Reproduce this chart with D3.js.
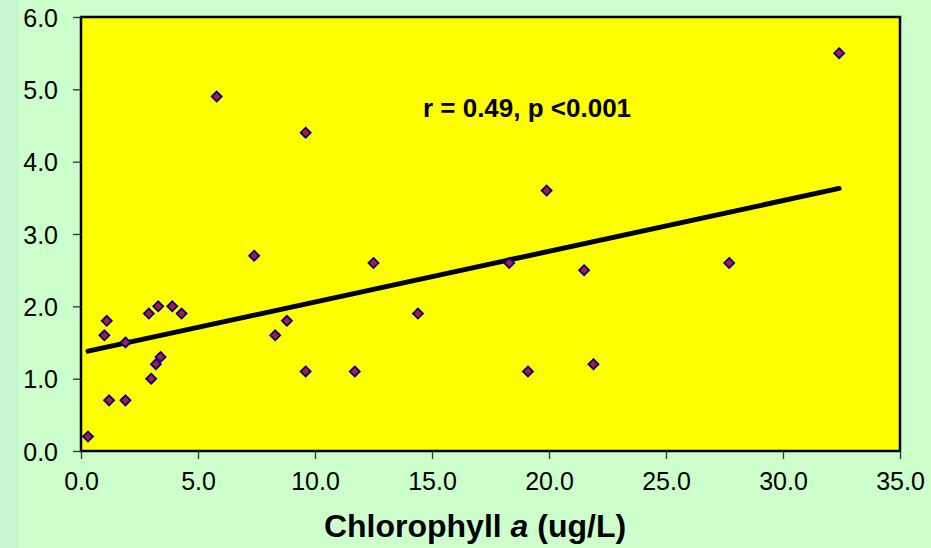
<!DOCTYPE html>
<html><head><meta charset="utf-8">
<script src="https://cdn.jsdelivr.net/npm/d3@7"></script>
<style>html,body{margin:0;padding:0;background:#ccffcc;}svg{display:block;}</style>
</head><body>
<svg id="c" width="931" height="548"></svg>
<script>
const chlorophyll = [0.3,1.0,1.1,1.2,1.9,1.9,2.9,3.0,3.2,3.3,3.4,3.9,4.3,5.8,7.4,8.3,8.8,9.6,9.6,11.7,12.5,14.4,18.3,19.1,19.9,21.5,21.9,27.7,32.4];
const yValues   = [0.2,1.6,1.8,0.7,1.5,0.7,1.9,1.0,1.2,2.0,1.3,2.0,1.9,4.9,2.7,1.6,1.8,4.4,1.1,1.1,2.6,1.9,2.6,1.1,3.6,2.5,1.2,2.6,5.5];
const trendX = [0.3, 32.4];
const trendY = [1.38, 3.63];
const xTicks = [0,5,10,15,20,25,30,35];
const yTicks = [0,1,2,3,4,5,6];
const annotation = "r = 0.49, p <0.001";

const svg = d3.select("#c");
svg.append("rect").attr("x",0).attr("y",0).attr("width",19).attr("height",548).attr("fill","#c6f6cd");
const L=81,T=17,R=900,B=451;
const x = d3.scaleLinear().domain([0,35]).range([L,R]);
const y = d3.scaleLinear().domain([0,6]).range([B,T]);
const FONT = "'Liberation Sans', Arial, sans-serif";

svg.append("rect").attr("x",L).attr("y",T).attr("width",R-L).attr("height",B-T)
  .attr("fill","#ffff00").attr("stroke","#000").attr("stroke-width",2.5);

const xa = svg.append("g").attr("transform",`translate(0,${B})`)
  .call(d3.axisBottom(x).tickValues(xTicks).tickFormat(d3.format(".1f")).tickSize(8).tickSizeOuter(0));
const ya = svg.append("g").attr("transform",`translate(${L},0)`)
  .call(d3.axisLeft(y).tickValues(yTicks).tickFormat(d3.format(".1f")).tickSize(8).tickSizeOuter(0));
[xa,ya].forEach(a=>{
  a.select(".domain").remove();
  a.selectAll(".tick line").attr("stroke","#333").attr("stroke-width",1.3);
  a.selectAll("text").attr("fill","#000").style("font-family",FONT).style("font-size","25px");
});
xa.selectAll("text").attr("dy","0.71em").attr("y",21);
ya.selectAll("text").attr("x",-23).attr("dy","0.36em");

const line = d3.line().x(d=>x(d[0])).y(d=>y(d[1]));
svg.append("path").datum(d3.zip(trendX,trendY)).attr("d",line)
  .attr("fill","none").attr("stroke","#000").attr("stroke-width",5).attr("stroke-linecap","round");

const pts = d3.zip(chlorophyll,yValues);
svg.append("g").selectAll("path").data(pts).join("path")
  .attr("transform",d=>`translate(${x(d[0])},${y(d[1])})`)
  .attr("d","M0,-5L5,0L0,5L-5,0Z")
  .attr("fill","#b01c2e").attr("stroke","#000099").attr("stroke-width",1.8);

svg.append("text").attr("x",527).attr("y",117).attr("text-anchor","middle")
  .style("font-family",FONT).style("font-size","26px").style("font-weight","bold")
  .text(annotation);

const t = svg.append("text").attr("x",475).attr("y",537).attr("text-anchor","middle")
  .style("font-family",FONT).style("font-size","32px").style("font-weight","bold");
t.append("tspan").text("Chlorophyll ");
t.append("tspan").style("font-style","italic").text("a");
t.append("tspan").text(" (ug/L)");
</script>
</body></html>
